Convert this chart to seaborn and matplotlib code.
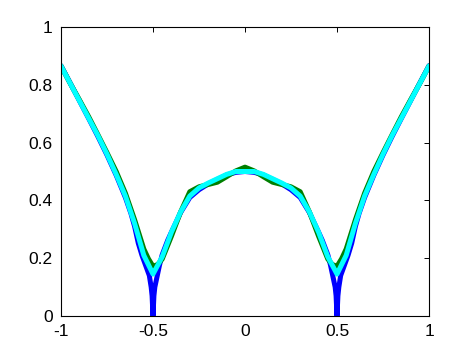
import matplotlib
matplotlib.use("Agg")
import matplotlib.pyplot as plt
import seaborn as sns

# ---- data ----
blue_x = [-1.0, -0.95, -0.9, -0.85, -0.8, -0.75, -0.7, -0.65, -0.62, -0.6, -0.58, -0.56, -0.54,
          -0.52, -0.51, -0.505, -0.5, -0.495, -0.49, -0.48, -0.465, -0.45, -0.42, -0.4, -0.35,
          -0.3, -0.25, -0.2, -0.15, -0.1, -0.05, 0.0,
          0.05, 0.1, 0.15, 0.2, 0.25, 0.3, 0.35, 0.4, 0.42, 0.45, 0.465, 0.48, 0.49, 0.495, 0.5,
          0.505, 0.51, 0.52, 0.54, 0.56, 0.58, 0.6, 0.62, 0.65, 0.7, 0.75, 0.8, 0.85, 0.9, 0.95, 1.0]
blue_y = [0.866, 0.806, 0.745, 0.684, 0.622, 0.557, 0.487, 0.41, 0.355, 0.31, 0.252, 0.21, 0.175,
          0.14, 0.10, 0.07, 0.0, 0.07, 0.10, 0.13, 0.175, 0.212, 0.262, 0.29, 0.358,
          0.41, 0.437, 0.457, 0.473, 0.488, 0.497, 0.5,
          0.497, 0.488, 0.473, 0.457, 0.437, 0.41, 0.358, 0.29, 0.262, 0.212, 0.175, 0.13, 0.10, 0.07, 0.0,
          0.07, 0.10, 0.14, 0.175, 0.21, 0.252, 0.31, 0.355, 0.41, 0.487, 0.557, 0.622, 0.684, 0.745, 0.806, 0.866]

green_x = [-1.0, -0.95, -0.9, -0.85, -0.8, -0.75, -0.7, -0.65, -0.6, -0.55, -0.525, -0.5, -0.475,
           -0.45, -0.4, -0.35, -0.3, -0.25, -0.2, -0.15, -0.1, -0.05, 0.0,
           0.05, 0.1, 0.15, 0.2, 0.25, 0.3, 0.35, 0.4, 0.45, 0.475, 0.5, 0.525, 0.55, 0.6,
           0.65, 0.7, 0.75, 0.8, 0.85, 0.9, 0.95, 1.0]
green_y = [0.865, 0.805, 0.748, 0.69, 0.628, 0.565, 0.50, 0.425, 0.333, 0.232, 0.198, 0.172, 0.178,
           0.197, 0.276, 0.36, 0.43, 0.447, 0.455, 0.463, 0.482, 0.502, 0.515,
           0.502, 0.482, 0.463, 0.455, 0.447, 0.43, 0.36, 0.276, 0.197, 0.178, 0.172, 0.198, 0.232, 0.333,
           0.425, 0.50, 0.565, 0.628, 0.69, 0.748, 0.805, 0.865]

cyan_x = [-1.0, -0.95, -0.9, -0.85, -0.8, -0.75, -0.7, -0.65, -0.6, -0.55, -0.5, -0.45, -0.4,
          -0.35, -0.3, -0.25, -0.2, -0.15, -0.1, -0.05, 0.0,
          0.05, 0.1, 0.15, 0.2, 0.25, 0.3, 0.35, 0.4, 0.45, 0.5, 0.55, 0.6, 0.65, 0.7,
          0.75, 0.8, 0.85, 0.9, 0.95, 1.0]
cyan_y = [0.865, 0.805, 0.745, 0.685, 0.625, 0.56, 0.49, 0.415, 0.32, 0.21, 0.145, 0.205, 0.29,
          0.36, 0.415, 0.443, 0.46, 0.475, 0.49, 0.50, 0.50,
          0.50, 0.49, 0.475, 0.46, 0.443, 0.415, 0.36, 0.29, 0.205, 0.145, 0.21, 0.32, 0.415, 0.49,
          0.56, 0.625, 0.685, 0.745, 0.805, 0.865]

x_ticks = [-1, -0.5, 0, 0.5, 1]
x_tick_labels = ["-1", "-0.5", "0", "0.5", "1"]
y_ticks = [0, 0.2, 0.4, 0.6, 0.8, 1]
y_tick_labels = ["0", "0.2", "0.4", "0.6", "0.8", "1"]

# ---- plot ----
sns.set_style("white")
plt.rcParams["font.family"] = ["Liberation Sans", "DejaVu Sans"]

fig = plt.figure(figsize=(4.73, 3.55), dpi=100)
ax = fig.add_axes([61 / 473, 39 / 355, 368 / 473, 289 / 355])

lw = 3.6
sns.lineplot(x=blue_x, y=blue_y, ax=ax, color="#0000ff", linewidth=lw, sort=False, estimator=None)
sns.lineplot(x=green_x, y=green_y, ax=ax, color="#007f00", linewidth=lw, sort=False, estimator=None)
sns.lineplot(x=cyan_x, y=cyan_y, ax=ax, color="#00ffff", linewidth=lw, sort=False, estimator=None)

ax.set_xlim(-1, 1)
ax.set_ylim(0, 1)
ax.set_xticks(x_ticks)
ax.set_xticklabels(x_tick_labels)
ax.set_yticks(y_ticks)
ax.set_yticklabels(y_tick_labels)
ax.tick_params(direction="in", length=3.5, width=0.7, top=True, right=True,
               labelsize=12.5, colors="black")
ax.tick_params(axis="x", pad=6)
ax.tick_params(axis="y", pad=6)
for s in ax.spines.values():
    s.set_visible(True)
    s.set_color("black")
    s.set_linewidth(0.8)
ax.set_xlabel("")
ax.set_ylabel("")

fig.savefig("out.png", dpi=100)
